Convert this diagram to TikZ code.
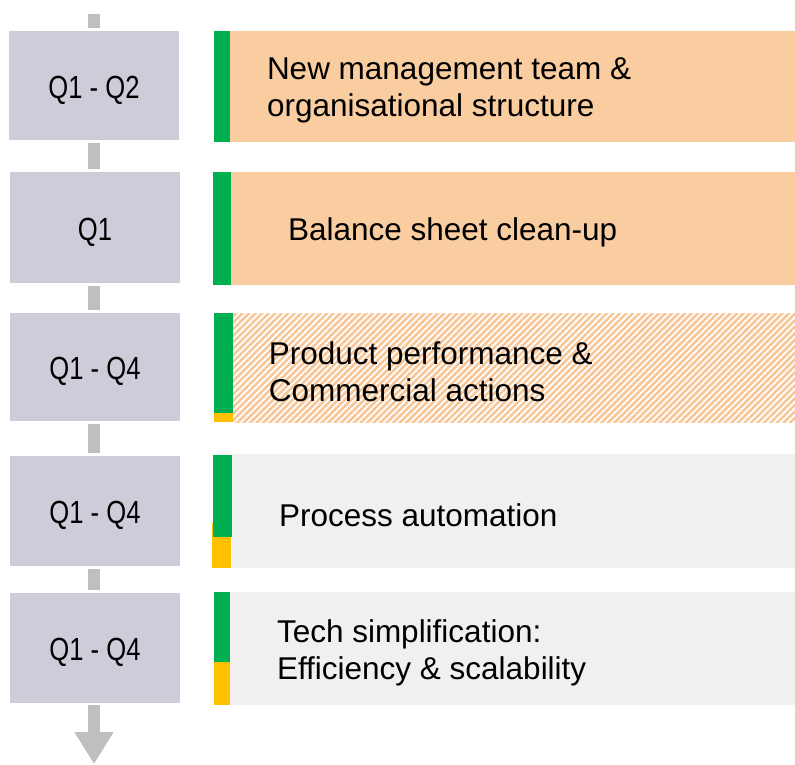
\documentclass[tikz,border=0pt]{standalone}
\usepackage{fontspec}
\setmainfont{Liberation Sans}
\newfontfamily\qfont{Liberation Sans}[FakeStretch=0.8]
\usepackage{tikz}
\usetikzlibrary{arrows.meta, positioning, patterns.meta}
\definecolor{qgrey}{HTML}{CDCCD8}
\definecolor{stubgrey}{HTML}{BFBFBF}
\definecolor{peach}{HTML}{F9CDA0}
\definecolor{hatchpeach}{HTML}{F8C696}
\definecolor{lightgrey}{HTML}{F0F0F0}
\definecolor{bargreen}{HTML}{00B050}
\definecolor{baryellow}{HTML}{FFC000}

\begin{document}
\begin{tikzpicture}[x=1pt, y=-1pt,
    period/.style={fill=qgrey, inner sep=0pt, minimum width=170pt, text height=25.5pt, text depth=0pt,
                   font=\qfont\fontsize{32}{38}\selectfont},
    task/.style={inner sep=0pt},
    tasktext/.style={inner sep=0pt, align=left, yshift=-4pt, font=\fontsize{31.5}{37}\selectfont},
    stub/.style={draw=stubgrey, line width=12pt, shorten <=3pt, shorten >=3pt}]
                \useasboundingbox (0,0) rectangle (795,764);

                % Periods
                \node [period, minimum height=109pt] (q1) at (94,85.5) {Q1 - Q2};
                \node [period, minimum height=111pt] (q2) at (95,227.5) {Q1};
                \node [period, minimum height=108pt] (q3) at (95,367) {Q1 - Q4};
                \node [period, minimum height=110pt] (q4) at (95,511) {Q1 - Q4};
                \node [period, minimum height=110pt] (q5) at (95,648) {Q1 - Q4};
                \coordinate (start) at (94,11);
                \coordinate (finish) at (94,764);

                % Actions
                \node [task, fill=peach, minimum width=565pt, minimum height=111pt] (t1) at (512.5,86.5) {};
                \node [task, fill=peach, minimum width=564pt, minimum height=113pt] (t2) at (513,228.5) {};
                \node [task, pattern={Lines[angle=45, distance=4.6pt, line width=2.6pt]}, pattern color=hatchpeach,
                       minimum width=562pt, minimum height=109pt] (t3) at (514,367.5) {};
                \node [task, fill=lightgrey, minimum width=563pt, minimum height=114pt] (t4) at (513.5,511) {};
                \node [task, fill=lightgrey, minimum width=565pt, minimum height=113pt] (t5) at (512.5,648.5) {};

                % Status bars
                \fill [bargreen] (214,31) rectangle (230,142);
                \fill [bargreen] (213,172) rectangle (231,285);
                \fill [bargreen] (214,313) rectangle (233,413);
                \fill [baryellow] (214,413) rectangle (233,422);
                \fill [baryellow] (212,523) rectangle (231,568);
                \fill [bargreen] (213,455) rectangle (232,537);
                \fill [bargreen] (214,592) rectangle (230,662);
                \fill [baryellow] (214,662) rectangle (230,705);

                \node [tasktext, right=37pt of t1.west] (l1) {New management team \&\\organisational structure};
                \node [tasktext, right=57pt of t2.west] (l2) {Balance sheet clean-up};
                \node [tasktext, right=37pt of t3.west] (l3) {Product performance \&\\Commercial actions};
                \node [tasktext, right=47pt of t4.west] (l4) {Process automation};
                \node [tasktext, right=47pt of t5.west] (l5) {Tech simplification:\\Efficiency \& scalability};

                \draw [stub] (start) -- (q1.north -| start);
                \draw [stub] (q1.south -| start) -- (q2.north -| start);
                \draw [stub] (q2.south -| start) -- (q3.north -| start);
                \draw [stub] (q3.south -| start) -- (q4.north -| start);
                \draw [stub] (q4.south -| start) -- (q5.north -| start);
                \draw [stub, shorten <=2pt, shorten >=0pt, -{Triangle[width=37pt, length=32pt]}] (q5.south -| start) -- (finish);
            \end{tikzpicture}
\end{document}
